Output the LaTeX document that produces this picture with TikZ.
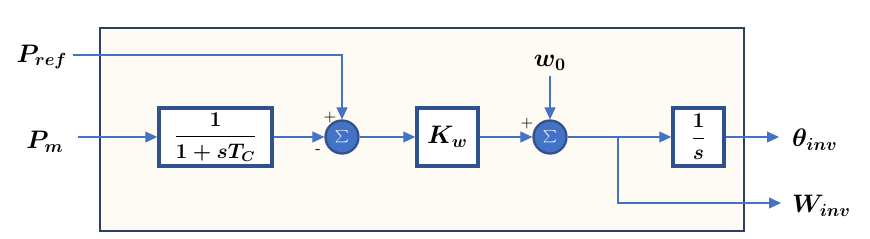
\documentclass[tikz,border=0pt]{standalone}
\usepackage{amsmath,amssymb}
\usepackage{bm}
\usetikzlibrary{arrows.meta}
\definecolor{FrameColor}{RGB}{45,62,104}
\definecolor{BoxColor}{RGB}{47,82,143}
\definecolor{SumFill}{RGB}{68,114,196}
\definecolor{SumBorder}{RGB}{47,82,143}
\definecolor{LineColor}{RGB}{68,114,196}
\definecolor{CreamColor}{RGB}{253,251,243}

\begin{document}
\begin{tikzpicture}[x=0.02cm,y=-0.02cm,
    blk/.style={draw=BoxColor,line width=2pt,fill=white,
        minimum height=1.16cm,inner sep=0pt},
    sumnode/.style={circle,draw=SumBorder,line width=1.3pt,fill=SumFill,
        minimum size=0.66cm,inner sep=0pt,text=white!90!SumFill},
    sig/.style={draw=LineColor,line width=0.6pt,
        -{Triangle[length=0.24cm,width=0.22cm]}},
    lab/.style={font=\Large},
    sgn/.style={font=\small}]
\useasboundingbox (0,0) rectangle (870,238);

% outer frame
\draw[FrameColor,line width=1.6pt,fill=CreamColor] (100,28) rectangle (744,231);

% blocks
\node[blk,minimum width=2.26cm,font=\large] (lag) at (215.5,137)
    {$\bm{\dfrac{1}{1+sT_C}}$};
\node[sumnode] (sum1) at (342,137) {$\scriptstyle\sum$};
\node[blk,minimum width=1.22cm,font=\Large] (kw) at (447.5,137) {$\bm{K_w}$};
\node[sumnode] (sum2) at (550,137) {$\scriptstyle\sum$};
\node[blk,minimum width=1.02cm,font=\large] (intg) at (698.5,137) {$\bm{\dfrac{1}{s}}$};

% labels
\node[lab] (pref) at (42,57) {$\bm{P_{ref}}$};
\node[lab] (pm) at (45,142) {$\bm{P_m}$};
\node[lab] (w0) at (550,63) {$\bm{w_0}$};
\node[lab,anchor=west] (theta) at (786,140) {$\bm{\theta_{inv}}$};
\node[lab,anchor=west] (winv) at (786,206) {$\bm{W_{inv}}$};

\node[sgn] (p1) at (330,118) {$+$};
\node[sgn] (m1) at (318,152) {-};
\node[sgn] (p2) at (527,124) {$+$};

% free ends
\coordinate (prefin) at (73,55);
\coordinate (pmin) at (78,137);
\coordinate (w0in) at (550,76);
\coordinate (br) at (618,137);
\coordinate (thout) at (779,137);
\coordinate (wout) at (781,203);

% connectors
\draw[sig] (prefin) -| (sum1.north);
\draw[sig] (pmin) -- (lag.west);
\draw[sig] (lag.east) -- (sum1.west);
\draw[sig] (sum1.east) -- (kw.west);
\draw[sig] (kw.east) -- (sum2.west);
\draw[sig] (w0in) -- (sum2.north);
\draw[sig] (sum2.east) -- (intg.west);
\draw[sig] (intg.east) -- (thout);
\draw[sig] (br) |- (wout);
\end{tikzpicture}
\end{document}
